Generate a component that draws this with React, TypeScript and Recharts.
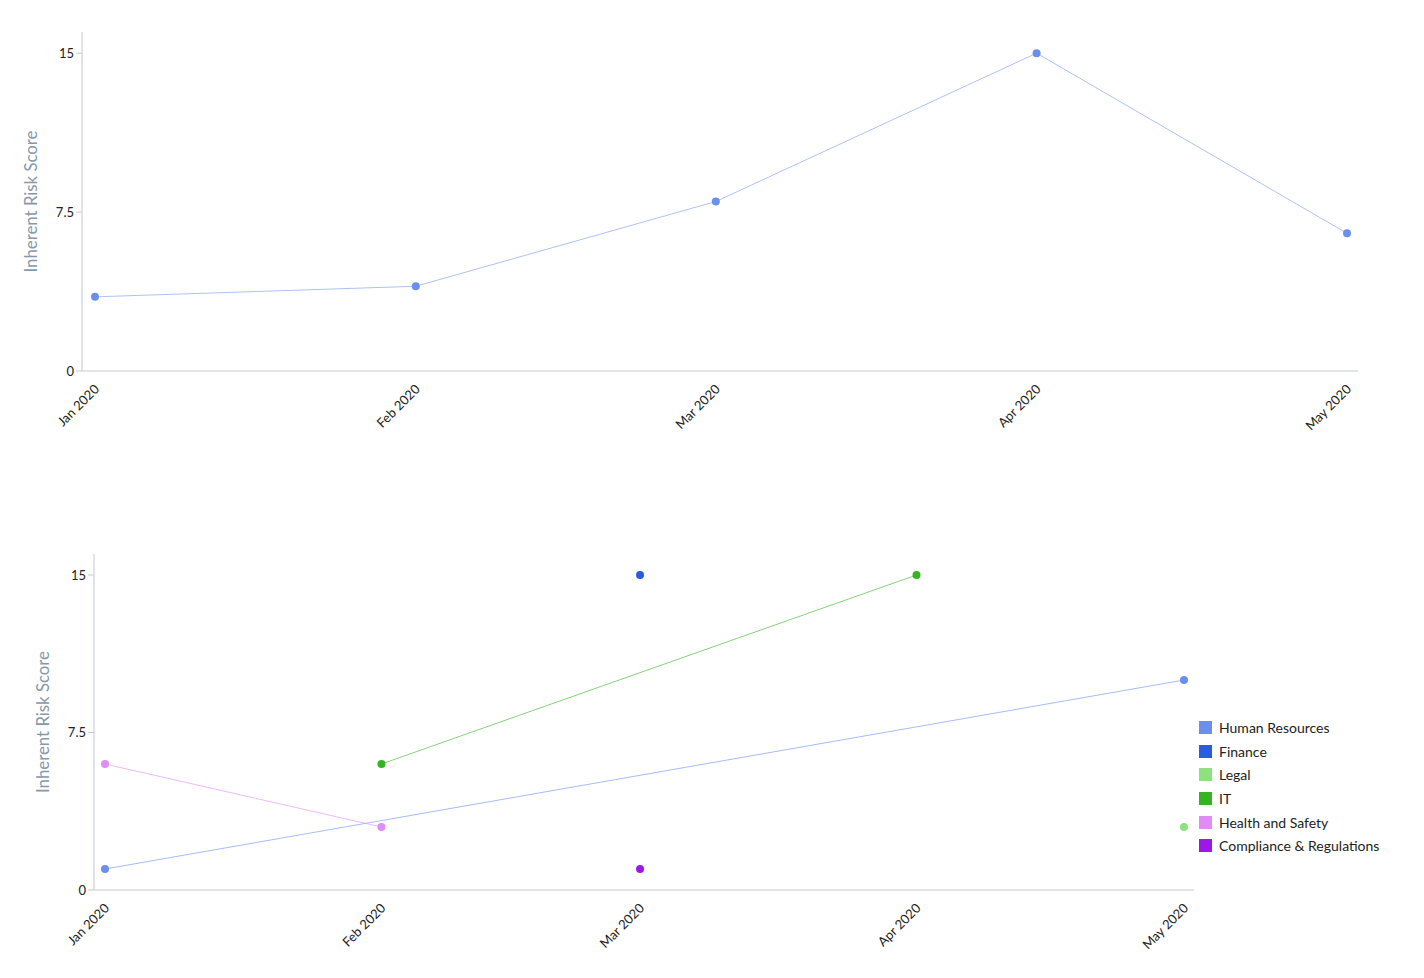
import React from 'react';
import { LineChart, Line, XAxis, YAxis, Label } from 'recharts';

const monthDates = ['2020-01-01', '2020-02-01', '2020-03-01', '2020-04-01', '2020-05-01'];
const monthLabels = ['Jan 2020', 'Feb 2020', 'Mar 2020', 'Apr 2020', 'May 2020'];
const yTicks = [0, 7.5, 15];

const overallScores = [3.5, 4, 8, 15, 6.5];

const seriesNames = ['Human Resources', 'Finance', 'Legal', 'IT', 'Health and Safety', 'Compliance & Regulations'];
const seriesColors = ['#6a8fed', '#2a5be3', '#8fe07f', '#34b423', '#e08cf5', '#9f17e6'];
const humanResources = [1, null, null, null, 10];
const finance = [null, null, 15, null, null];
const legal = [null, null, null, null, 3];
const itScores = [null, 6, null, 15, null];
const healthSafety = [6, 3, null, null, null];
const compliance = [null, null, 1, null, null];
const seriesValues = [humanResources, finance, legal, itScores, healthSafety, compliance];

const FONT = 'Lato, "Open Sans", sans-serif';
const AXIS_COLOR = '#c3cad3';

const times = monthDates.map((d) => Date.parse(d + 'T00:00:00Z'));
const labelFor = (t: number) => {
  const i = times.indexOf(t);
  return i >= 0 ? monthLabels[i] : '';
};

const topData = times.map((t, i) => ({ t, score: overallScores[i] }));
const bottomData = times.map((t, i) => {
  const row: any = { t };
  seriesNames.forEach((n, k) => {
    row[n] = seriesValues[k][i];
  });
  return row;
});

const XTick = (props: any) => {
  const { x, y, payload } = props;
  return (
    <g transform={`translate(${x + 5},${y + 19})`}>
      <text textAnchor="end" transform="rotate(-45)" fontSize={13} fill="#222" fontFamily={FONT}>
        {labelFor(payload.value)}
      </text>
    </g>
  );
};

const YLabel = (props: any) => {
  const vb = props.viewBox || {};
  const cx = vb.x + vb.width - 52;
  const cy = vb.y + vb.height / 2;
  return (
    <text
      x={cx}
      y={cy}
      transform={`rotate(-90, ${cx}, ${cy})`}
      textAnchor="middle"
      dominantBaseline="central"
      fontSize={16.8}
      fill="#8798a9"
      fontFamily={FONT}
    >
      Inherent Risk Score
    </text>
  );
};

const LegendBox = () => (
  <div style={{ position: 'absolute', left: 1199, top: 716, fontFamily: FONT, fontSize: 14, color: '#222' }}>
    {seriesNames.map((n, i) => (
      <div key={n} style={{ display: 'flex', alignItems: 'center', height: 23.6 }}>
        <span style={{ display: 'inline-block', width: 13, height: 13, background: seriesColors[i], marginRight: 7 }} />
        <span>{n}</span>
      </div>
    ))}
  </div>
);

const yTickStyle = { fontSize: 13, fill: '#222', fontFamily: FONT };

export default function App() {
  return (
    <div style={{ position: 'absolute', left: 0, top: 0, width: 1424, height: 978, background: '#fff' }}>
      <div style={{ position: 'absolute', left: 0, top: 0 }}>
        <LineChart width={1424} height={450} data={topData} margin={{ top: 32, right: 66, bottom: 19, left: 0 }}>
          <XAxis
            dataKey="t"
            type="number"
            scale="time"
            domain={['dataMin', 'dataMax']}
            ticks={times}
            tick={<XTick />}
            tickLine={false}
            tickSize={0}
            tickMargin={0}
            height={60}
            padding={{ left: 13, right: 11 }}
            axisLine={{ stroke: AXIS_COLOR }}
            interval={0}
          />
          <YAxis
            width={82}
            domain={[0, 16]}
            ticks={yTicks}
            tick={yTickStyle}
            tickLine={{ stroke: AXIS_COLOR }}
            axisLine={{ stroke: AXIS_COLOR }}
            interval={0}
          >
            <Label content={<YLabel />} />
          </YAxis>
          <Line
            dataKey="score"
            stroke="#6a8fed"
            strokeOpacity={0.55}
            strokeWidth={1}
            dot={{ r: 4, fill: '#6a8fed', stroke: 'none', fillOpacity: 1, strokeOpacity: 0 }}
            activeDot={false}
            isAnimationActive={false}
          />
        </LineChart>
      </div>
      <div style={{ position: 'absolute', left: 0, top: 480 }}>
        <LineChart width={1424} height={498} data={bottomData} margin={{ top: 74, right: 230, bottom: 28, left: 0 }}>
          <XAxis
            dataKey="t"
            type="number"
            scale="time"
            domain={['dataMin', 'dataMax']}
            ticks={times}
            tick={<XTick />}
            tickLine={false}
            tickSize={0}
            tickMargin={0}
            height={60}
            padding={{ left: 11, right: 10 }}
            axisLine={{ stroke: AXIS_COLOR }}
            interval={0}
          />
          <YAxis
            width={94}
            domain={[0, 16]}
            ticks={yTicks}
            tick={yTickStyle}
            tickLine={{ stroke: AXIS_COLOR }}
            axisLine={{ stroke: AXIS_COLOR }}
            interval={0}
          >
            <Label content={<YLabel />} />
          </YAxis>
          {seriesNames.map((n, i) => (
            <Line
              key={n}
              dataKey={n}
              stroke={seriesColors[i]}
              strokeOpacity={0.6}
              strokeWidth={1}
              connectNulls
              dot={{ r: 4, fill: seriesColors[i], stroke: 'none', fillOpacity: 1, strokeOpacity: 0 }}
              activeDot={false}
              isAnimationActive={false}
            />
          ))}
        </LineChart>
      </div>
      <LegendBox />
    </div>
  );
}
